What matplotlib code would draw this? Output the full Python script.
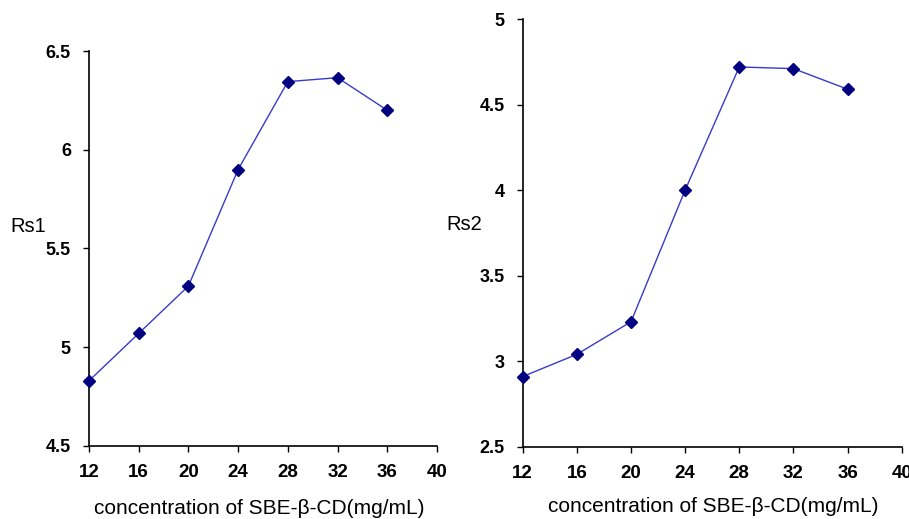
import matplotlib
matplotlib.use("Agg")
import matplotlib.pyplot as plt

conc = [12, 16, 20, 24, 28, 32, 36]
rs1 = [4.83, 5.07, 5.31, 5.90, 6.345, 6.365, 6.20]
rs2 = [2.91, 3.04, 3.23, 4.00, 4.72, 4.71, 4.59]
x_ticks = [12, 16, 20, 24, 28, 32, 36, 40]
rs1_ticks = [4.5, 5, 5.5, 6, 6.5]
rs2_ticks = [2.5, 3, 3.5, 4, 4.5, 5]
xlabel = "concentration of SBE-\u03b2-CD(mg/mL)"

tick_font = ["Liberation Sans", "DejaVu Sans"]
label_font = ["Liberation Sans", "DejaVu Sans"]

fig = plt.figure(figsize=(9.09, 5.19), dpi=100)
ax1 = fig.add_axes([0.0979, 0.1407, 0.3828, 0.761])
ax2 = fig.add_axes([0.575, 0.1393, 0.417, 0.824])


def style(ax, y, yticks, ylim):
    ax.plot(conc, y, color="#3a3acb", lw=1.0, marker="D", ms=6.5,
            mfc="#000080", mec="#000080", clip_on=False, zorder=3)
    ax.set_xlim(12, 40)
    ax.set_ylim(*ylim)
    ax.set_xticks(x_ticks)
    ax.set_yticks(yticks)
    ax.set_yticklabels([f"{t:g}" for t in yticks])
    for s in ("top", "right"):
        ax.spines[s].set_visible(False)
    for s in ("left", "bottom"):
        ax.spines[s].set_linewidth(1.2)
    ax.tick_params(direction="out", length=4, width=1.0)
    ax.tick_params(axis="x", labelsize=13.5, pad=9)
    ax.tick_params(axis="y", labelsize=13, pad=9)
    for lab in ax.get_xticklabels() + ax.get_yticklabels():
        lab.set_family(tick_font)
        lab.set_fontweight("bold")


style(ax1, rs1, rs1_ticks, (4.5, 6.5))
style(ax2, rs2, rs2_ticks, (2.5, 5))

fig.text(28 / 909, 1 - 226 / 519, "Rs1", family=label_font, fontsize=14.5,
         ha="center", va="center")
fig.text(464 / 909, 1 - 225 / 519, "Rs2", family=label_font, fontsize=14.5,
         ha="center", va="center")
fig.text(259 / 909, 1 - 508 / 519, xlabel, family=label_font, fontsize=15,
         ha="center", va="center")
fig.text(713 / 909, 1 - 507 / 519, xlabel, family=label_font, fontsize=15,
         ha="center", va="center")

fig.savefig("out.png", dpi=100)
